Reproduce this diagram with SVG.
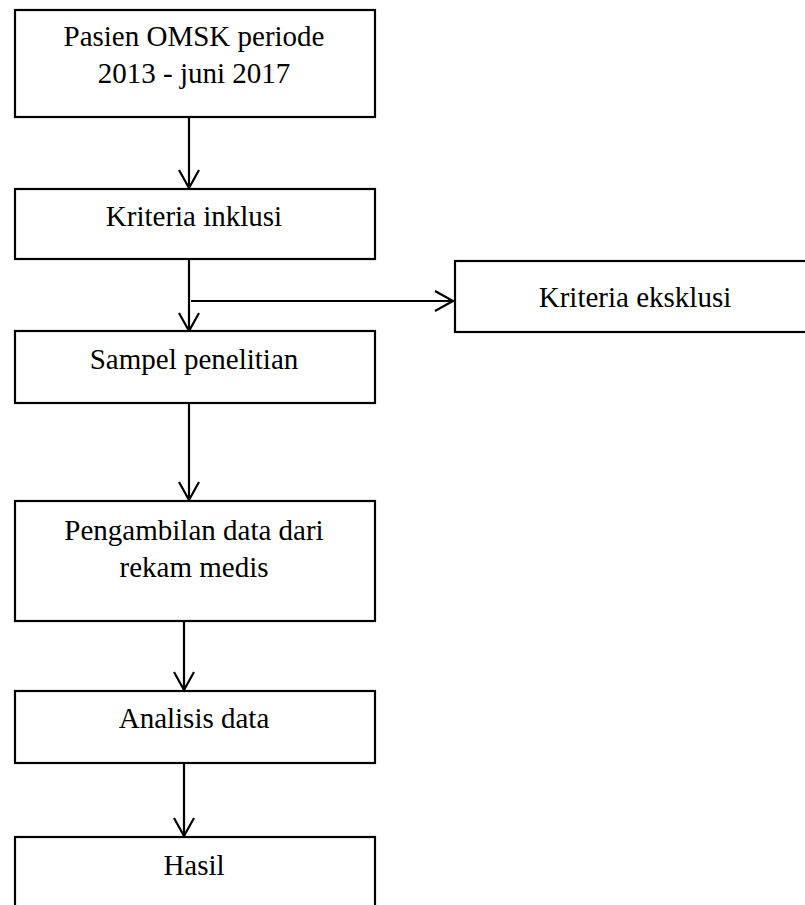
<svg xmlns="http://www.w3.org/2000/svg" width="805" height="905" viewBox="0 0 805 905">
<style>
.box{fill:#fff;stroke:#000;stroke-width:2.2}
.t{font-family:"Liberation Serif","Times New Roman",serif;font-size:29px;fill:#000;text-anchor:middle}
.c{fill:none;stroke:#000;stroke-width:2.2}
</style>
<rect width="805" height="905" fill="#fff"/>
<g id="connectors">
<path class="c" d="M189 117 V188 M179 170 L189 188 L199 170"/>
<path class="c" d="M189 259 V330 M179 313 L189 331 L199 313"/>
<path class="c" d="M191 301 H453 M435 291 L453 301 L435 311"/>
<path class="c" d="M189 403 V500 M179 482 L189 500 L199 482"/>
<path class="c" d="M184 621 V690 M174 672 L184 690 L194 672"/>
<path class="c" d="M184 763 V836 M174 818 L184 836 L194 818"/>
</g>
<g id="n1"><rect class="box" x="15" y="10" width="360" height="107"/><text class="t" x="194" y="46">Pasien OMSK periode</text><text class="t" x="194" y="83">2013 - juni 2017</text></g>
<g id="n2"><rect class="box" x="15" y="189" width="360" height="70"/><text class="t" x="194" y="226">Kriteria inklusi</text></g>
<g id="n3"><rect class="box" x="15" y="331" width="360" height="72"/><text class="t" x="194" y="369">Sampel penelitian</text></g>
<g id="n4"><rect class="box" x="15" y="501" width="360" height="120"/><text class="t" x="194" y="540">Pengambilan data dari</text><text class="t" x="194" y="577">rekam medis</text></g>
<g id="n5"><rect class="box" x="15" y="691" width="360" height="72"/><text class="t" x="194" y="728">Analisis data</text></g>
<g id="n6"><rect class="box" x="15" y="837" width="360" height="100"/><text class="t" x="194" y="875">Hasil</text></g>
<g id="n7"><rect class="box" x="455" y="261" width="360" height="71"/><text class="t" x="635" y="307">Kriteria eksklusi</text></g>
</svg>
